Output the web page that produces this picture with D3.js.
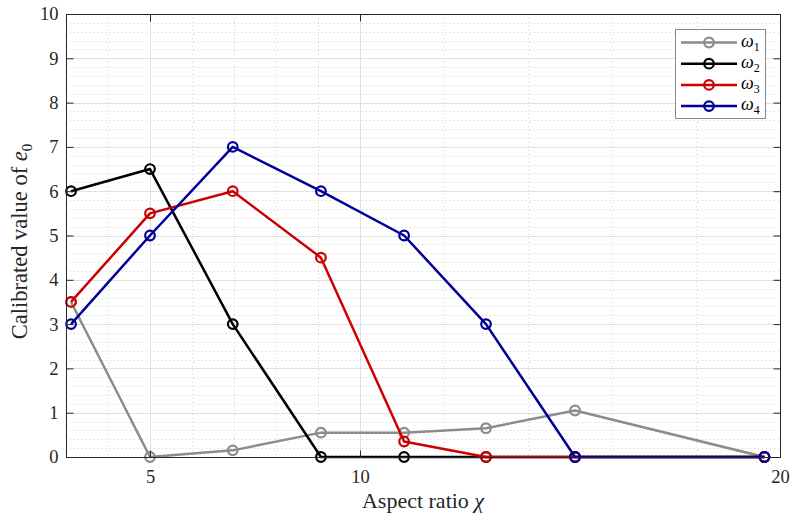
<!DOCTYPE html>
<html>
<head>
<meta charset="utf-8">
<script src="https://cdn.jsdelivr.net/npm/d3@7"></script>
<style>
  html, body { margin: 0; padding: 0; background: #fff; }
  svg { display: block; }
  svg text { font-family: "Liberation Serif", "DejaVu Serif", serif; }
</style>
</head>
<body>
<svg id="chart" width="790" height="516"></svg>
<script>
// Aspect ratios at which e0 was calibrated
const aspectRatio = [3.12, 5, 6.97, 9.07, 11.05, 13.0, 15.12, 19.63];

// Calibrated e0 for each frequency
const omega1 = [3.5, 0, 0.15, 0.55, 0.55, 0.65, 1.05, 0];
const omega2 = [6, 6.5, 3, 0, 0, 0, 0, 0];
const omega3 = [3.5, 5.5, 6, 4.5, 0.35, 0, 0, 0];
const omega4 = [3, 5, 7, 6, 5, 3, 0, 0];

const seriesNames = ["1", "2", "3", "4"];
const seriesColors = ["#8c8c8c", "#000000", "#cc0000", "#000099"];

const xTicks = [5, 10, 20];
const xMinorTicks = [4, 6, 7, 8, 9, 12, 14, 16, 18];
const yTicks = d3.range(0, 11, 1);
const yMinorTicks = d3.range(0, 10, 0.2).filter(v => Math.abs(v - Math.round(v)) > 1e-6);

const serif = "'Liberation Serif', 'DejaVu Serif', serif";
const svg = d3.select("#chart");
const margin = { left: 66, right: 10, top: 14, bottom: 59 };
const W = 790, H = 516;

const x = d3.scaleLinear().domain([3, 20]).range([margin.left, W - margin.right]);
const y = d3.scaleLinear().domain([0, 10]).range([H - margin.bottom, margin.top]);

const [x0, x1] = x.range();
const [yb, yt] = y.range();

// Minor grid (dotted)
const grid = svg.append("g");
grid.selectAll(".ymin").data(yMinorTicks).enter().append("line")
  .attr("x1", x0).attr("x2", x1)
  .attr("y1", d => Math.round(y(d)) + 0.5).attr("y2", d => Math.round(y(d)) + 0.5)
  .attr("stroke", "#cfcfcf").attr("stroke-width", 1).attr("stroke-dasharray", "1,3");
grid.selectAll(".xmin").data(xMinorTicks).enter().append("line")
  .attr("y1", yt).attr("y2", yb)
  .attr("x1", d => Math.round(x(d)) + 0.5).attr("x2", d => Math.round(x(d)) + 0.5)
  .attr("stroke", "#cfcfcf").attr("stroke-width", 1).attr("stroke-dasharray", "1,3");

// Major grid (solid)
grid.selectAll(".ymaj").data(yTicks).enter().append("line")
  .attr("x1", x0).attr("x2", x1)
  .attr("y1", d => Math.round(y(d)) + 0.5).attr("y2", d => Math.round(y(d)) + 0.5)
  .attr("stroke", "#e0e0e0").attr("stroke-width", 1);
grid.selectAll(".xmaj").data(xTicks).enter().append("line")
  .attr("y1", yt).attr("y2", yb)
  .attr("x1", d => Math.round(x(d)) + 0.5).attr("x2", d => Math.round(x(d)) + 0.5)
  .attr("stroke", "#e0e0e0").attr("stroke-width", 1);

// Series
const allSeries = [omega1, omega2, omega3, omega4];
const line = d3.line().x((d, i) => x(aspectRatio[i])).y(d => y(d));

allSeries.forEach((vals, k) => {
  const g = svg.append("g");
  g.append("path").datum(vals)
    .attr("d", line)
    .attr("fill", "none")
    .attr("stroke", seriesColors[k])
    .attr("stroke-width", 2.5)
    .attr("stroke-linejoin", "round");
  g.selectAll("circle").data(vals).enter().append("circle")
    .attr("cx", (d, i) => x(aspectRatio[i]))
    .attr("cy", d => y(d))
    .attr("r", 4.8)
    .attr("fill", "none")
    .attr("stroke", seriesColors[k])
    .attr("stroke-width", 2.2);
});

// Axes box and ticks
const axisColor = "#262626";
const axes = svg.append("g");
axes.append("rect")
  .attr("x", x0 + 0.5).attr("y", yt + 0.5)
  .attr("width", x1 - x0).attr("height", yb - yt)
  .attr("fill", "none").attr("stroke", axisColor).attr("stroke-width", 1);

const tickLen = 7;
const yAxisL = d3.axisLeft(y).tickValues(yTicks).tickSize(-tickLen).tickPadding(8).tickFormat(d3.format("d"));
const yAxisR = d3.axisRight(y).tickValues(yTicks).tickSize(-tickLen).tickFormat("");
const xAxisB = d3.axisBottom(x).tickValues(xTicks).tickSize(-tickLen).tickPadding(12).tickFormat(d3.format("d"));
const xAxisT = d3.axisTop(x).tickValues(xTicks).tickSize(-tickLen).tickFormat("");

function styleAxis(g) {
  g.attr("font-family", serif).attr("font-size", 18.5);
  g.select(".domain").remove();
  g.selectAll(".tick line").attr("stroke", axisColor).attr("stroke-width", 1);
  g.selectAll(".tick text").attr("fill", "#262626");
}

axes.append("g").attr("transform", `translate(${x0 + 0.5},0)`).call(yAxisL).call(styleAxis);
axes.append("g").attr("transform", `translate(${x1 + 0.5},0)`).call(yAxisR).call(styleAxis);
axes.append("g").attr("transform", `translate(0,${yb + 0.5})`).call(xAxisB).call(styleAxis);
axes.append("g").attr("transform", `translate(0,${yt + 0.5})`).call(xAxisT).call(styleAxis);

// Axis titles
svg.append("text")
  .attr("x", (x0 + x1) / 2).attr("y", 508)
  .attr("text-anchor", "middle")
  .attr("fill", "#262626")
  .attr("font-family", serif)
  .attr("font-size", 22)
  .call(t => {
    t.append("tspan").text("Aspect ratio ");
    t.append("tspan").attr("font-style", "italic").text("χ");
  });

svg.append("text")
  .attr("transform", `translate(27,${(yt + yb) / 2 + 6}) rotate(-90)`)
  .attr("text-anchor", "middle")
  .attr("fill", "#262626")
  .attr("font-family", serif)
  .attr("font-size", 22.5)
  .call(t => {
    t.append("tspan").text("Calibrated value of ");
    t.append("tspan").attr("font-style", "italic").text("e");
    t.append("tspan").attr("dy", 5).attr("font-size", 15).text("0");
  });

// Legend
const legend = svg.append("g");
const lx = 675, ly = 29, lw = 90, lh = 89;
legend.append("rect")
  .attr("x", lx + 0.5).attr("y", ly + 0.5).attr("width", lw).attr("height", lh)
  .attr("fill", "#fff").attr("stroke", "#8a8a8a").attr("stroke-width", 1);

seriesNames.forEach((name, k) => {
  const cy = ly + 13.5 + k * 21.2;
  legend.append("line")
    .attr("x1", lx + 6).attr("x2", lx + 62)
    .attr("y1", cy).attr("y2", cy)
    .attr("stroke", seriesColors[k]).attr("stroke-width", 2.5);
  legend.append("circle")
    .attr("cx", lx + 34).attr("cy", cy).attr("r", 4.8)
    .attr("fill", "none").attr("stroke", seriesColors[k]).attr("stroke-width", 2.2);
  legend.append("text")
    .attr("x", lx + 66).attr("y", cy + 4)
    .attr("fill", "#000")
    .attr("font-family", serif)
    .attr("font-size", 18)
    .call(t => {
      t.append("tspan").attr("font-style", "italic").text("ω");
      t.append("tspan").attr("dy", 4).attr("font-size", 12).text(name);
    });
});
</script>
</body>
</html>
